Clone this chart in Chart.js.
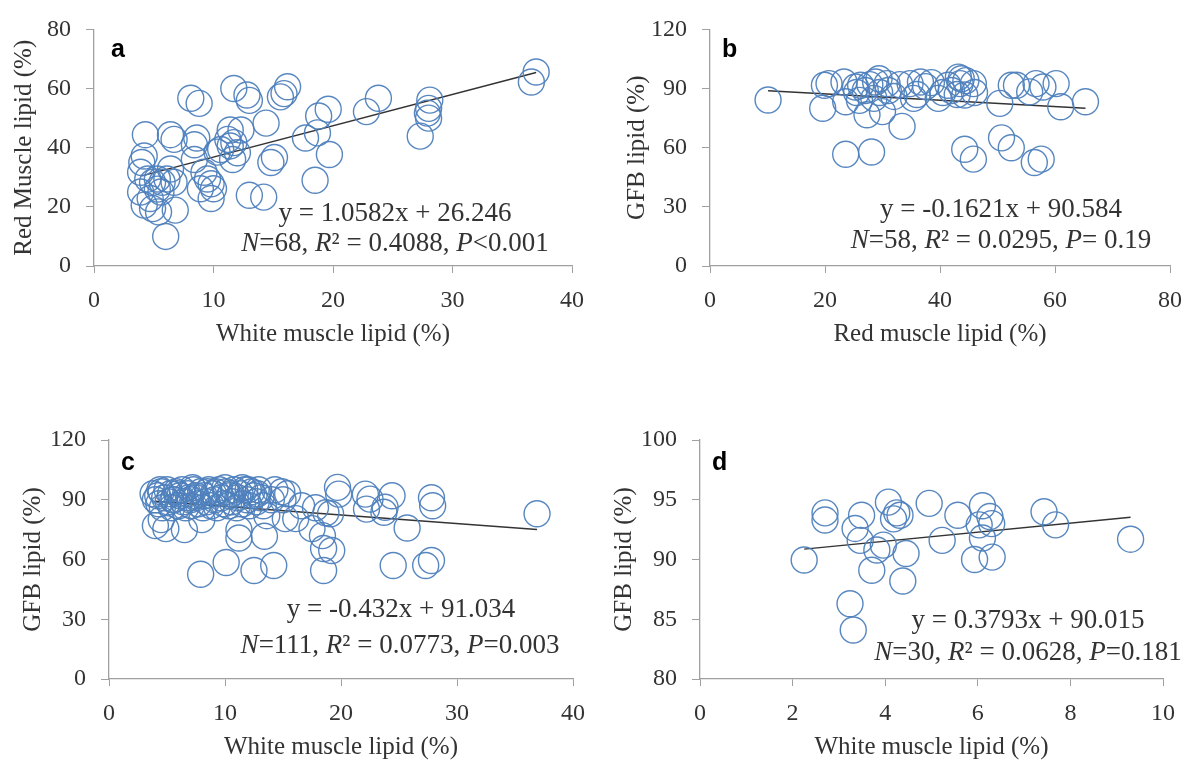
<!DOCTYPE html>
<html>
<head>
<meta charset="utf-8">
<script src="https://cdn.jsdelivr.net/npm/chart.js@4"></script>
<style>
html,body{margin:0;padding:0;background:#fff;}
#wrap{position:relative;width:1195px;height:765px;overflow:hidden;}
canvas{position:absolute;left:0;top:0;}
</style>
</head>
<body>
<div id="wrap">
<canvas id="ca" width="1195" height="765"></canvas>
<canvas id="cb" width="1195" height="765"></canvas>
<canvas id="cc" width="1195" height="765"></canvas>
<canvas id="cd" width="1195" height="765"></canvas>
</div>
<script>
// ---------- Panel a: white muscle lipid vs red muscle lipid ----------
const aX = [3.9,3.9,4.0,4.2,4.3,4.2,4.5,4.7,4.9,4.9,5.3,5.3,5.4,5.6,5.7,6.0,6.1,6.4,6.4,6.7,6.7,6.8,8.1,8.8,8.4,8.6,8.4,8.9,9.2,9.5,9.8,9.8,10.0,10.6,11.2,11.4,11.7,11.4,12.3,12.0,11.6,11.7,12.8,13.0,13.0,14.2,14.4,14.8,15.1,15.6,15.9,16.2,17.7,18.7,18.5,18.8,19.6,19.7,22.8,23.8,27.3,27.9,28.0,28.0,28.1,36.6,37.0,10.3];
const aY = [31.7,25,35,37.2,44.4,20.6,29.4,22.8,28.3,19.4,29.4,26,18.3,25,28.3,10,29.4,44.4,32.8,42.8,28.3,18.9,56.7,55,41,43.3,36,26.1,31.7,29.4,27.8,22.8,26.1,39.4,42.8,40.6,41.7,46,46,38.3,36,60,57.8,56,23.9,23.3,48.3,35,36.7,57.2,58.3,60.6,43.3,45,29,50.7,53,37.7,52.2,56.7,43.9,51.7,50,53.3,56.1,62.2,65.6,38.5];
const aFit = {slope:1.0582, intercept:26.246, x0:4.0, x1:37.0};
const aXTicks = [0,10,20,30,40];
const aYTicks = [0,20,40,60,80];

// ---------- Panel b: red muscle lipid vs GFB lipid ----------
const bX = [10.1,19.6,19.9,20.7,23.3,23.6,25.3,26.2,27.3,28.8,29.4,30.0,30.8,33.4,34.8,36.6,35.4,39.7,41.4,43.2,43.5,23.6,28.1,44.3,43.7,45.8,44.3,50.4,52.4,53.3,55.6,56.7,57.9,60.2,61.0,65.3,45.8,50.7,52.4,56.4,57.6,25.5,27.0,27.8,28.5,29.5,31.0,32.0,33.0,36.0,37.5,38.5,40.5,42.0,43.0,44.5,46.0,26.0];
const bY = [84.2,80,91.7,92.5,93.3,83.3,90.8,91.7,76.7,93.3,95,78.3,92.5,70.8,92.5,93.3,85,85,91.7,95.8,92.5,56.7,57.8,59.2,95,92.5,86.7,82.5,91.7,91.7,88.3,92.5,90.8,92.5,80.8,83.3,54.2,65,60,52.5,54.2,88,89,92,85,88,89,86,92,87,91,93,88,89,87,94,88,84];
const bFit = {slope:-0.1621, intercept:90.584, x0:10.1, x1:65.3};
const bXTicks = [0,20,40,60,80];
const bYTicks = [0,30,60,90,120];

// ---------- Panel c: white muscle lipid vs GFB lipid ----------
const cX = [4.0,4.2,4.3,4.5,4.6,4.8,5.0,5.1,5.3,5.4,5.6,5.8,6.0,6.1,6.3,6.4,6.6,6.8,7.0,7.1,7.3,7.5,7.7,7.9,8.1,8.2,8.4,8.6,8.8,9.0,9.1,9.3,9.5,9.7,9.9,10.1,10.3,10.4,10.6,10.8,11.0,11.1,11.3,11.5,11.7,11.9,12.1,12.3,12.5,12.7,12.9,13.1,13.3,14.3,14.9,15.4,15.0,14.0,16.6,13.6,15.2,
  4.0,4.9,6.5,4.5,5.5,7.5,8.5,10.5,11.2,11.2,13.4,7.9,10.1,12.5,14.2,18.5,18.5,18.4,17.5,16.1,19.7,19.8,18.7,17.8,22.1,22.5,24.4,22.2,23.7,23.8,25.7,27.8,27.9,36.9,24.5,27.3,27.8,19.1,19.2,
  4.4,5.9,6.9,8.0,9.2,12.0,12.8,3.8,7.2,10.0,11.5];
const cY = [90,92,88,94,86,91,95,89,93,86,90,94,87,92,95,89,86,93,90,87,95,91,88,94,86,92,89,95,87,93,90,86,95,91,88,94,87,92,89,95,86,91,93,88,95,90,87,94,92,89,95,91,87,95,94,93,90,90,87,82,80.5,
  77,75.5,75,80,90,92,94,93,75,70.8,71.7,52.6,58.5,54.5,57,54.5,65.5,72,75.5,80.5,96.2,92.8,83.5,86,92.8,90.3,92,85.3,83.7,86.2,75.8,91,87,83,57,57,59.5,83,64.5,
  95,93,91,80,94,95,93,93,96,96,96];
const cFit = {slope:-0.432, intercept:91.034, x0:4.0, x1:36.9};
const cXTicks = [0,10,20,30,40];
const cYTicks = [0,30,60,90,120];

// ---------- Panel d: white muscle lipid vs GFB lipid ----------
const dX = [2.25,2.7,2.7,3.24,3.31,3.35,3.49,3.46,3.71,3.82,3.96,4.07,4.18,4.25,4.32,4.45,4.38,4.95,5.23,5.57,6.1,6.03,5.93,6.1,6.26,6.3,6.31,7.43,7.68,9.3];
const dY = [89.96,93.9,93.3,86.3,84.1,92.6,93.7,91.6,89.1,90.8,91.2,94.8,93.4,93.9,93.7,90.5,88.2,94.7,91.6,93.7,94.5,92.9,90.0,91.8,93.6,93.0,90.2,94.0,92.9,91.7];
const dFit = {slope:0.3793, intercept:90.015, x0:2.25, x1:9.3};
const dXTicks = [0,2,4,6,8,10];
const dYTicks = [80,85,90,95,100];

// ---------- common styling ----------
const SERIF = "'Liberation Serif','Times New Roman',serif";
const TXT = '#333333';
const AXIS = '#a0a0a0';
const BLUE = 'rgba(79,129,189,0.95)';

const annotPlugin = {
  id: 'annot',
  afterDraw(chart, args, opts) {
    const ctx = chart.ctx;
    ctx.save();
    ctx.fillStyle = '#000';
    ctx.font = "bold 25px 'Liberation Sans', Arial, sans-serif";
    ctx.textAlign = 'left';
    ctx.textBaseline = 'alphabetic';
    ctx.fillText(opts.letter.text, opts.letter.x, opts.letter.y);
    ctx.fillStyle = TXT;
    for (const line of opts.lines) {
      let total = 0;
      for (const p of line.parts) {
        ctx.font = (p.i ? 'italic ' : '') + '27px ' + SERIF;
        total += ctx.measureText(p.t).width;
      }
      let x = line.cx - total / 2;
      for (const p of line.parts) {
        ctx.font = (p.i ? 'italic ' : '') + '27px ' + SERIF;
        ctx.fillText(p.t, x, line.y);
        x += ctx.measureText(p.t).width;
      }
    }
    ctx.restore();
  }
};

function fitLine(f) {
  return [{x: f.x0, y: f.slope * f.x0 + f.intercept}, {x: f.x1, y: f.slope * f.x1 + f.intercept}];
}

function makePanel(id, xs, ys, fit, xTicks, yTicks, area, xTitle, yTitle, yTitleX, letter, lines) {
  const pts = xs.map((x, i) => ({x: x, y: ys[i]}));
  const yWidth = area.l - (yTitleX - 24);
  const xHeight = 86;
  new Chart(document.getElementById(id), {
    type: 'scatter',
    data: {
      datasets: [
        {data: pts, pointRadius: 13, pointHoverRadius: 13, borderColor: BLUE, backgroundColor: 'rgba(0,0,0,0)', borderWidth: 1.4, clip: false},
        {type: 'line', data: fitLine(fit), borderColor: '#333', borderWidth: 1.5, pointRadius: 0, fill: false, clip: false}
      ]
    },
    options: {
      responsive: false,
      animation: false,
      events: [],
      layout: {autoPadding: false, padding: {left: yTitleX - 24, top: area.t, right: 1195 - area.r, bottom: 765 - area.b - xHeight}},
      plugins: {legend: {display: false}, tooltip: {enabled: false}, annot: {letter: letter, lines: lines}},
      scales: {
        x: {
          type: 'linear', min: xTicks[0], max: xTicks[xTicks.length - 1],
          afterBuildTicks: s => { s.ticks = xTicks.map(v => ({value: v})); },
          afterFit: s => { s.height = xHeight; },
          grid: {drawOnChartArea: false, drawTicks: true, tickLength: 7, color: AXIS},
          border: {display: true, color: AXIS, width: 1.3},
          ticks: {font: {family: SERIF, size: 24}, color: TXT, padding: 13, maxRotation: 0},
          title: {display: true, text: xTitle, font: {family: SERIF, size: 25}, color: TXT, padding: {top: 0, bottom: 3}}
        },
        y: {
          type: 'linear', min: yTicks[0], max: yTicks[yTicks.length - 1],
          afterBuildTicks: s => { s.ticks = yTicks.map(v => ({value: v})); },
          afterFit: s => { s.width = yWidth; },
          grid: {drawOnChartArea: false, drawTicks: true, tickLength: 8, color: AXIS},
          border: {display: true, color: AXIS, width: 1.3},
          ticks: {font: {family: SERIF, size: 24}, color: TXT, padding: 15},
          title: {display: true, text: yTitle, font: {family: SERIF, size: 25}, color: TXT, padding: {top: 9, bottom: 0}}
        }
      }
    },
    plugins: [annotPlugin]
  });
}

makePanel('ca', aX, aY, aFit, aXTicks, aYTicks, {l: 94, r: 572, t: 25, b: 266},
  'White muscle lipid (%)', 'Red Muscle lipid (%)', 24,
  {text: 'a', x: 111, y: 57},
  [{cx: 395, y: 221, parts: [{t: 'y = 1.0582x + 26.246'}]},
   {cx: 395, y: 251, parts: [{t: 'N', i: 1}, {t: '=68, '}, {t: 'R', i: 1}, {t: '² = 0.4088, '}, {t: 'P', i: 1}, {t: '<0.001'}]}]);

makePanel('cb', bX, bY, bFit, bXTicks, bYTicks, {l: 710, r: 1174, t: 25, b: 266},
  'Red muscle lipid (%)', 'GFB lipid (%)', 637,
  {text: 'b', x: 722, y: 57},
  [{cx: 1001, y: 217, parts: [{t: 'y = -0.1621x + 90.584'}]},
   {cx: 1001, y: 248, parts: [{t: 'N', i: 1}, {t: '=58, '}, {t: 'R', i: 1}, {t: '² = 0.0295, '}, {t: 'P', i: 1}, {t: '= 0.19'}]}]);

makePanel('cc', cX, cY, cFit, cXTicks, cYTicks, {l: 109, r: 573, t: 440, b: 679},
  'White muscle lipid (%)', 'GFB lipid (%)', 33,
  {text: 'c', x: 121, y: 470},
  [{cx: 401, y: 617, parts: [{t: 'y = -0.432x + 91.034'}]},
   {cx: 400, y: 653, parts: [{t: 'N', i: 1}, {t: '=111, '}, {t: 'R', i: 1}, {t: '² = 0.0773, '}, {t: 'P', i: 1}, {t: '=0.003'}]}]);

makePanel('cd', dX, dY, dFit, dXTicks, dYTicks, {l: 700, r: 1163, t: 440, b: 679},
  'White muscle lipid (%)', 'GFB lipid (%)', 624,
  {text: 'd', x: 712, y: 470},
  [{cx: 1028, y: 628, parts: [{t: 'y = 0.3793x + 90.015'}]},
   {cx: 1028, y: 660, parts: [{t: 'N', i: 1}, {t: '=30, '}, {t: 'R', i: 1}, {t: '² = 0.0628, '}, {t: 'P', i: 1}, {t: '=0.181'}]}]);
</script>
</body>
</html>
